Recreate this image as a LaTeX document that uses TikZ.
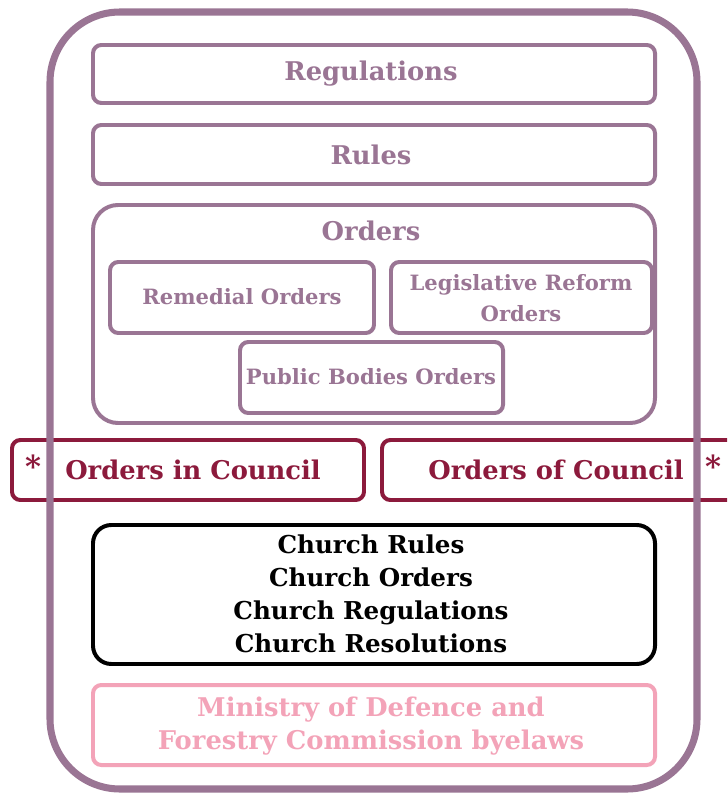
\documentclass[tikz,border=0pt]{standalone}
\usepackage{fontspec}
\setmainfont{DejaVu Serif}
\usepackage{xcolor}
\definecolor{lilac}{HTML}{9A7594}
\definecolor{wine}{HTML}{8C1A3C}
\definecolor{rosepink}{HTML}{F3A3B8}

\begin{document}
\begin{tikzpicture}[x=0.03cm, y=-0.03cm,
		outer/.style = {draw=lilac, line width=6pt, rounded corners=2.1cm},
		box/.style = {draw=lilac, line width=3.4pt, rounded corners=0.25cm},
		bigtxt/.style = {font=\bfseries\fontsize{22}{28}\selectfont, align=center},
		smalltxt/.style = {font=\bfseries\fontsize{18}{26}\selectfont, align=center, text=lilac}]
				\useasboundingbox (0,0) rectangle (727,796);
				\clip (0,0) rectangle (727,796);
				% purple group
				\draw[box] (93,45) rectangle (655,103);
				\node[bigtxt, text=lilac] (regs) at (371,74) {Regulations};
				\draw[box] (93,125) rectangle (655,184);
				\node[bigtxt, text=lilac] (rules) at (371,155) {Rules};
				\draw[box, rounded corners=0.75cm] (93,205) rectangle (655,423);
				\node[bigtxt, text=lilac] (orders) at (371,231) {Orders};
				\draw[box] (110,262) rectangle (374,333);
				\node[smalltxt] (remedial) at (242,297) {Remedial Orders};
				\draw[box] (391,262) rectangle (652,333);
				\node[smalltxt] (lro) at (521,298) {Legislative Reform\\Orders};
				\draw[box] (240,342) rectangle (503,413);
				\node[smalltxt] (pbo) at (371,377) {Public Bodies Orders};
				% council orders
				\draw[box, draw=wine] (12,440) rectangle (364,500);
				\node[bigtxt, text=wine] (oic) at (193,470) {Orders in Council};
				\node[bigtxt, text=wine, font=\bfseries\fontsize{26}{28}\selectfont] (staroic) at (33,466) {*};
				\draw[box, draw=wine] (382,440) rectangle (745,500);
				\node[bigtxt, text=wine] (ooc) at (556,470) {Orders of Council};
				\node[bigtxt, text=wine, font=\bfseries\fontsize{26}{28}\selectfont] (starooc) at (713,466) {*};
				% church measures
				\draw[box, draw=black, rounded corners=0.55cm] (93,525) rectangle (655,664);
				\node[bigtxt, text=black, font=\bfseries\fontsize{21}{28}\selectfont] (church) at (371,594) {Church Rules\\Church Orders\\Church Regulations\\Church Resolutions};
				% byelaws
				\draw[box, draw=rosepink] (93,685) rectangle (655,765);
				\node[bigtxt, text=rosepink] (byelaws) at (371,726) {Ministry of Defence and\\Forestry Commission byelaws};
				\draw[outer] (50,12) rectangle (697,789);
				\end{tikzpicture}
\end{document}
